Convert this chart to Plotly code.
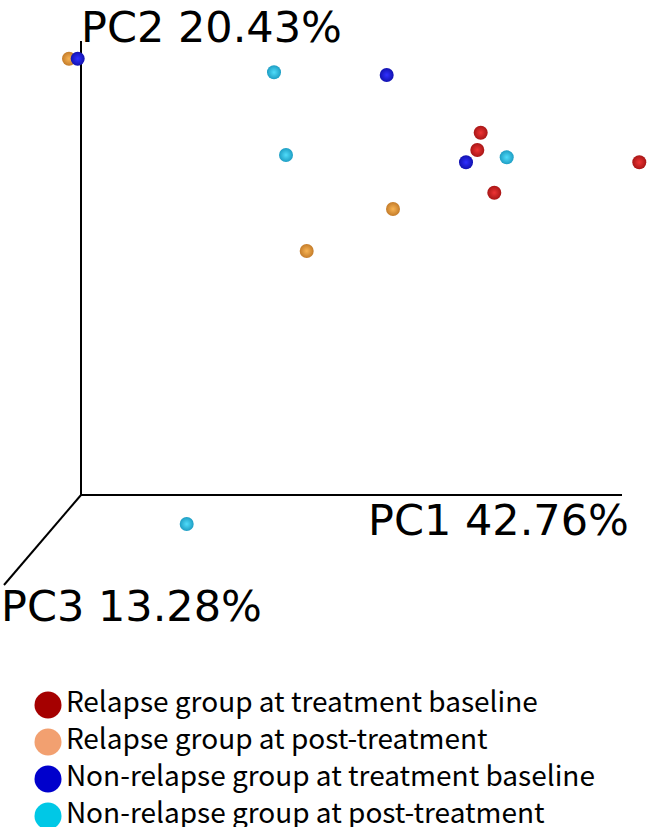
import plotly.graph_objects as go

# Group labels (legend)
groups = [
    "Relapse group at treatment baseline",
    "Relapse group at post-treatment",
    "Non-relapse group at treatment baseline",
    "Non-relapse group at post-treatment",
]

# Projected PCoA coordinates (horizontal = PC1 view axis, vertical = PC2 view axis)
relapse_base_x = [3.997, 3.963, 5.583, 4.133]
relapse_base_y = [3.623, 3.450, 3.327, 3.023]
relapse_post_x = [-0.120, 3.120, 2.257]
relapse_post_y = [4.363, 2.860, 2.440]
nonrel_base_x = [-0.033, 3.057, 3.850]
nonrel_base_y = [4.363, 4.200, 3.327]
nonrel_post_x = [1.930, 2.050, 4.257, 1.057]
nonrel_post_y = [4.227, 3.400, 3.377, -0.290]

# Axis labels and axis end points in the projected view
axis_labels = ["PC1 42.76%", "PC2 20.43%", "PC3 13.28%"]
pc1_end = (5.41, 0.0)
pc2_end = (0.0, 4.54)
pc3_end = (-0.77, -0.90)

edge_colors = ["#a81616", "#c47c2a", "#1212b0", "#1e9ec4"]
center_colors = ["#ee3434", "#f8b454", "#3030ff", "#50dcfa"]
legend_colors = ["#a50000", "#f2a070", "#0000cc", "#00c8e6"]

fig = go.Figure()

# Axes lines
for (ex, ey) in [pc1_end, pc2_end, pc3_end]:
    fig.add_trace(go.Scatter(x=[0, ex], y=[0, ey], mode="lines",
                             line=dict(color="black", width=2),
                             showlegend=False, hoverinfo="skip"))

series = [
    (relapse_post_x, relapse_post_y, 1),
    (nonrel_base_x, nonrel_base_y, 2),
    (nonrel_post_x, nonrel_post_y, 3),
    (relapse_base_x, relapse_base_y, 0),
]
for xs, ys, gi in series:
    fig.add_trace(go.Scatter(
        x=xs, y=ys, mode="markers", name=groups[gi], showlegend=False,
        marker=dict(size=14, color=edge_colors[gi],
                    gradient=dict(type="radial", color=center_colors[gi]),
                    line=dict(width=0)),
    ))

# Axis label annotations
lab_font = dict(family="DejaVu Sans", size=43, color="black")
fig.add_annotation(x=pc2_end[0], y=1, yref="paper", text=axis_labels[1], showarrow=False,
                   xanchor="left", yanchor="top", xshift=-2, yshift=0,
                   font=lab_font)
fig.add_annotation(x=pc1_end[0], y=pc1_end[1], text=axis_labels[0], showarrow=False,
                   xanchor="right", yanchor="top", xshift=9, yshift=2,
                   font=lab_font)
fig.add_annotation(x=pc3_end[0], y=pc3_end[1], text=axis_labels[2], showarrow=False,
                   xanchor="left", yanchor="top", xshift=-5, yshift=6,
                   font=lab_font)

# Legend drawn as a small categorical subplot
fig.add_trace(go.Scatter(
    x=[0] * len(groups), y=groups, mode="markers+text", text=groups,
    textposition="middle right",
    textfont=dict(family="Noto Sans CJK JP", size=28, color="black"),
    marker=dict(size=27, color=legend_colors, line=dict(width=0)),
    xaxis="x2", yaxis="y2", showlegend=False, hoverinfo="skip",
))

fig.update_layout(
    width=648, height=833,
    margin=dict(l=0, r=0, t=0, b=0),
    paper_bgcolor="white", plot_bgcolor="rgba(0,0,0,0)",
    showlegend=False,
    xaxis=dict(domain=[0, 1], range=[-0.81, 5.67], visible=False, fixedrange=True),
    yaxis=dict(domain=[0, 1], range=[-3.38, 4.95], visible=False, fixedrange=True),
    xaxis2=dict(domain=[0, 1], range=[-48, 600], visible=False, anchor="y2",
                fixedrange=True),
    yaxis2=dict(domain=[0.00708, 0.1759], range=[3.3, -0.5], visible=False,
                anchor="x2", type="category", fixedrange=True,
                categoryorder="array", categoryarray=groups),
)

fig.write_html("out.html", config={"displayModeBar": False},
               post_script="document.body.style.margin='0';document.body.style.padding='0';")
